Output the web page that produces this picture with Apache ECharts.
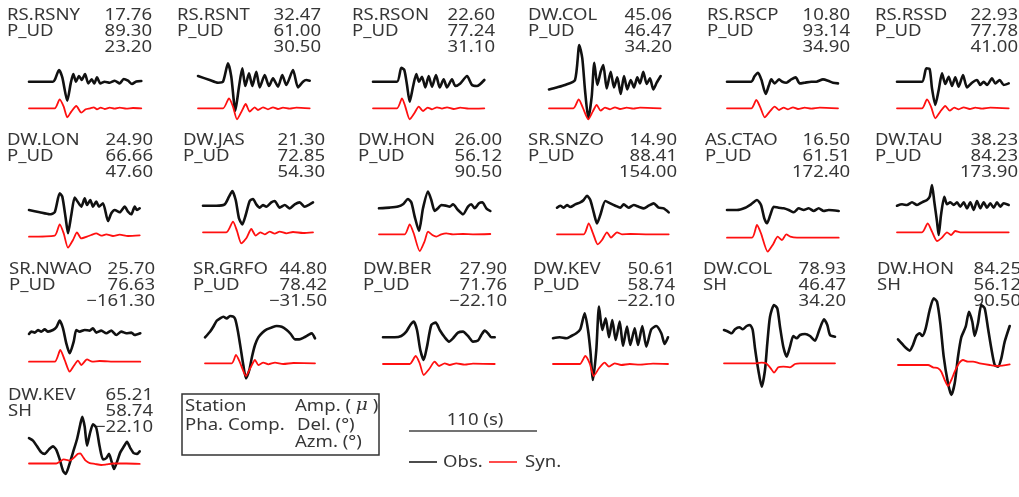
<!DOCTYPE html>
<html>
<head>
<meta charset="utf-8">
<title>Waveform fits</title>
<script src="https://cdn.jsdelivr.net/npm/echarts@6/dist/echarts.min.js"></script>
<style>
  html, body { margin: 0; padding: 0; background: #fff; }
  #main { width: 1019px; height: 497px; }
</style>
</head>
<body>
<div id="main"></div>
<script>
// Station records: name, phase/component, amplitude (micron), distance (deg), azimuth (deg)
const stations = ['RS.RSNY', 'RS.RSNT', 'RS.RSON', 'DW.COL', 'RS.RSCP', 'RS.RSSD',
  'DW.LON', 'DW.JAS', 'DW.HON', 'SR.SNZO', 'AS.CTAO', 'DW.TAU',
  'SR.NWAO', 'SR.GRFO', 'DW.BER', 'DW.KEV', 'DW.COL', 'DW.HON', 'DW.KEV'];
const phases = ['P_UD', 'P_UD', 'P_UD', 'P_UD', 'P_UD', 'P_UD',
  'P_UD', 'P_UD', 'P_UD', 'P_UD', 'P_UD', 'P_UD',
  'P_UD', 'P_UD', 'P_UD', 'P_UD', 'SH', 'SH', 'SH'];
const amplitudes = [17.76, 32.47, 22.60, 45.06, 10.80, 22.93,
  24.90, 21.30, 26.00, 14.90, 16.50, 38.23,
  25.70, 44.80, 27.90, 50.61, 78.93, 84.25, 65.21];
const distances = [89.30, 61.00, 77.24, 46.47, 93.14, 77.78,
  66.66, 72.85, 56.12, 88.41, 61.51, 84.23,
  76.63, 78.42, 71.76, 58.74, 46.47, 56.12, 58.74];
const azimuths = [23.20, 30.50, 31.10, 34.20, 34.90, 41.00,
  47.60, 54.30, 90.50, 154.00, 172.40, 173.90,
  -161.30, -31.50, -22.10, -22.10, 34.20, 90.50, -22.10];

// Observed traces: [time, amplitude] pairs, time measured from the window start
const obsTraces = [
  [[0,0],[24,0],[26,2.3],[30,11.7],[33.3,4.3],[38.3,-19],[41.7,-1.7],[44.3,7.7],[47,0],[50,5.7],[52.7,1.7],[56,7.7],[59.3,-1.7],[62.7,2.3],[65.3,-1.7],[68,4.3],[71.3,-1.7],[75.7,0],[80.7,-1],[85.7,1],[90.7,-1.7],[94.7,2.7],[99,1],[103,-2.3],[107.3,0.3],[112.3,0.7]],
  [[0,5.7],[11.7,1.7],[20,-1],[25,0],[30,18.3],[33.3,5],[37.3,-29],[41,-5],[44.3,13.3],[47.3,-4.3],[51,8.3],[54.3,-4.3],[58.3,10],[61.7,-5.7],[66.7,6.7],[71,-4.3],[75,3.3],[80,-5],[84.3,6.7],[88.3,-3.3],[95,11.7],[100,-5.7],[105,0],[108.3,1.7],[111.7,1]],
  [[0,0],[24,0],[28.3,14],[31.3,11.7],[34,-3.3],[36.7,-20],[40,-5],[43.3,7.7],[46,0],[49,5],[52.3,-5.7],[55.7,5.7],[59,-5],[63,6.7],[66.7,-5.7],[70.7,2.3],[74,-5.7],[79,2.3],[82.3,-4.3],[87.3,-1.7],[94,5.7],[99,-3.3],[104,-4.3],[111.3,1.7]],
  [[0,-7.7],[7.7,-5.7],[16,-3.3],[26,1.7],[30.3,36.7],[33.3,23.3],[36,-8.3],[39.3,-36.7],[42.7,-15],[45.3,19],[48.3,-3.3],[51.7,10],[54.3,16.7],[57.7,-6.7],[61.7,10],[65,-5.7],[68.3,4.3],[71.7,-12.3],[75,5.7],[78.3,-7.7],[81.7,1.7],[85,-5.7],[88.3,4.3],[91,-1.7],[94.3,10],[97.7,-2.3],[101,3.3],[104.3,-7.7],[107.7,-1],[111.7,5.7]],
  [[0,0],[24.3,0],[27.7,5.7],[31,9],[34.3,2.3],[38.7,-12.3],[42,-3.3],[44.3,2.3],[47.7,-1.7],[52,2.3],[55.3,0],[59.3,-1],[64.3,2.3],[68.7,4.3],[72.7,-1.7],[77.7,-1],[84.3,0],[89.3,0],[96,2.3],[101,1],[106,-1],[111,-1.7]],
  [[0,0],[25,0],[29.3,13.3],[32.7,12.3],[35,-6.7],[38.3,-23.3],[41.7,-8.3],[45,8.3],[48.3,-2.3],[51.7,5],[55,-4.3],[58.3,4.3],[61.7,-5],[66,6.7],[70,-5.7],[75,-1],[80,1.7],[83.3,-3.3],[86.7,0],[90,-3.3],[95,3.3],[98.3,-1.7],[102.7,1.7],[106.7,-3.3],[111.7,-1.7]],
  [[0,-1.7],[10.7,-4],[20.7,-6],[25.7,-4],[30.7,15],[33.3,11.7],[36.7,-10],[39,-25],[42.3,-6.7],[45.7,10.7],[49,6],[52.3,1.7],[55.7,10],[58,3.3],[61.3,8.3],[64,1.7],[67.3,6.7],[70,1.7],[74,5],[79,-12.7],[82.3,-5],[85.7,-1.7],[90.7,-4],[95.7,1.7],[99,-3.3],[102.3,-6],[105.7,1.7],[108,-1.7],[110.7,0]],
  [[0,0],[13.3,0],[21.7,1.3],[26,9],[29.3,14.7],[32.7,5.7],[36,-12.7],[39.3,-18.7],[42.7,-9.3],[46.7,4.7],[50,6.7],[53.3,1.3],[56.7,-2],[60,0.7],[63.3,-1],[68.3,3.3],[71.7,4.7],[76.7,-2],[81.7,0.7],[86.7,-2.7],[91.7,1.3],[96.7,3.3],[101.7,-1],[106.7,1.3],[110,3.3]],
  [[0,0],[10.7,0.7],[19,1.7],[24,4],[29,9.3],[32.3,6],[35.7,-8.3],[40,-22.7],[44,0],[49,16.7],[52.3,8.3],[55.7,-2.7],[59,0],[62.3,3.3],[66.7,2.7],[70.7,1.7],[74,4],[79,-1.7],[84,-6],[89,1.7],[92.3,4],[95.7,0],[100,5],[103.3,6],[107.3,0],[111.3,-2.7]],
  [[0,0],[3.3,2],[6.7,0],[10,2.7],[13.3,0.7],[18.3,3.3],[23.3,5.3],[26.7,7.7],[30,12],[33.3,7.7],[36.7,-4.7],[40,-15.7],[43.3,-7.3],[48.3,6.7],[53.3,4.3],[58.3,2],[63.3,0],[66.7,3.3],[71.7,0],[76.7,2.7],[81.7,1],[86.7,-0.7],[91.7,2],[96.7,4.3],[101.7,0],[106.7,-0.7],[111.7,-4.7]],
  [[0,0],[10,0],[18.3,2.3],[24,5.7],[30,10],[34,5],[37.3,-8.3],[40,-13.3],[43.3,-5],[46.7,3.3],[51.7,2.3],[56.7,1.7],[61.7,0],[66.7,-2.3],[71.7,1.7],[76.7,0],[81.7,1.7],[86.7,-1],[91.7,1.7],[96.7,-1],[101.7,0],[111.7,-1]],
  [[0,-0.7],[5,0.7],[10,0],[15,2.7],[20,0],[25,2.7],[30,5],[32.7,8.3],[35,20],[37.3,3.3],[40,-16.7],[41.7,-30],[44,-10],[47.3,8.3],[50,0.7],[53.3,2.7],[56.7,0],[60,2.7],[63.3,-1.7],[66.7,2.7],[70,-3.3],[73.3,2.7],[76.7,-5],[80,4],[83.3,-3.3],[86.7,2.7],[90,-2.7],[93.3,1.7],[96.7,-2.7],[100,2.7],[103.3,-1.7],[106.7,1.7],[111.7,0]],
  [[0,-0.7],[2.3,1.7],[5.7,0.7],[9,3.3],[12.3,1.7],[15.7,4],[19,1.7],[24,3.3],[27.3,6],[30.7,12.7],[34,5],[37.3,-10],[40.7,-20],[44.7,-8.3],[47.3,3.3],[50.7,1.7],[55.7,3.3],[60.7,2.7],[64,5],[67.3,0.7],[72.3,2.7],[77.3,0],[82.3,2.7],[87.3,-1.7],[92.3,1.7],[97.3,0],[102.3,0.7],[105.7,-1.7],[111.3,0]],
  [[0,-0.7],[5,5],[8.3,10],[11.7,16],[15,18.3],[18.3,20],[21.7,18.3],[25,20.7],[28.3,20],[30.3,17.3],[33,5],[35.7,-11.7],[38.3,-28.3],[41,-41.7],[44.3,-33.3],[47,-20],[50,-8.3],[53.3,-0.7],[57.3,4],[61.7,7.3],[66.7,9.3],[71.7,10.7],[76.7,10],[81.7,6.7],[85.7,2.7],[90,-2.7],[94.3,-2.7],[99,-0.7],[103.3,1.7],[106.7,3.3],[110,-1.7]],
  [[0,0],[11.7,0],[18.3,1.3],[23.3,5.7],[27.3,12.3],[30.7,15.7],[34,7.3],[37.3,-12.7],[40.7,-22.7],[44,-9.3],[48.3,12.3],[52.7,14.7],[56.7,7.3],[61.7,0],[66,-4.3],[70,-1],[75,4.7],[80,5.7],[85,1.3],[90,-4.3],[95,-3.3],[98.3,2.3],[101.7,6.7],[105,4],[108.3,0],[111.7,0]],
  [[0,-1],[6.7,0],[13.3,-1],[18.3,1.3],[23.3,4],[27.3,8],[31.7,24],[35,7.3],[37.3,-12.7],[40,-42.7],[43.3,-12.7],[46,30.7],[49.3,7.3],[52.7,19],[56,0],[59.3,17.3],[62.7,-2.7],[66.7,15.7],[70,-8.7],[74,10.7],[77.3,-7.7],[81.7,9],[85,-7.7],[89.3,11.3],[93.3,-9.3],[98.3,8],[103.3,11.3],[108.3,4],[111.7,-6.7],[115,0]],
  [[0,0],[4.3,-1.7],[7.7,-3.3],[11,0.7],[15.3,2.7],[18.7,0.7],[22.7,4],[26,5],[28.7,0],[31,-18.3],[34.3,-40],[37.7,-56.7],[41,-40],[43.3,-13.3],[46,13.3],[50,25],[53.3,21.7],[56,3.3],[59.3,-16.7],[62.7,-26.7],[66,-16.7],[69.3,-6],[72.7,-8.3],[76,-5],[81,-4],[86,-6],[91,-10.7],[95.3,0],[100,10.7],[103.3,5],[106,-5],[111,-6.7]],
  [[0,0.7],[4.3,-4],[8.3,-8.3],[11.7,-10.7],[15,-5],[18.3,4],[21.7,6.7],[24.3,4],[27.7,11.7],[31.7,30],[35.7,41.7],[39,38.3],[42.3,16.7],[45.7,-16.7],[50,-43.3],[53.3,-55],[56.7,-43.3],[60,-16.7],[63.3,2.7],[67.7,13.3],[71,28.3],[74.3,18.3],[76.7,4],[80,16.7],[83.3,35],[86.7,31.7],[90,11.7],[93.3,-8.3],[96.7,-25],[100,-26.7],[103.3,-18.3],[106.7,-1.7],[111.7,14]],
  [[0,18.3],[4,15],[8,7.3],[12.3,-0.7],[15.7,-2.7],[20,3.3],[24,7.3],[27.3,2.7],[30.7,-10],[34,-25],[36.7,-29.3],[40,-18.3],[44,-0.7],[48,16.7],[51.3,36.7],[53.3,46.7],[55.7,33.3],[58,8.3],[60.7,23.3],[64,36.7],[67.3,31.7],[70.7,6.7],[74,-10],[77.3,-8.3],[80,-2.7],[82.7,-13.3],[85,-22.7],[88,-13.3],[91.3,-0.7],[94.7,6.7],[98,13.3],[101.3,5],[104.7,-1.7],[108,-2.7],[110.7,0.7]]
];

// Synthetic traces on the same time windows
const synTraces = [
  [[0,0],[25.7,0],[30.7,9],[34.7,1.7],[38.3,-9],[42.3,-3.3],[47.3,2.3],[52.3,-4.3],[56.7,-1],[61.3,0],[64.7,1],[68,-1],[71.7,0.7],[75.7,-0.7],[80.7,0.7],[85.7,-0.3],[90.7,0.7],[97.3,-0.3],[104,0.3],[112.3,0]],
  [[0,0],[25,0],[31,10],[35,1.7],[39,-11],[44,-2.3],[47.7,4.3],[51.7,-3.3],[56.7,1],[60,-1.7],[65,1],[70,-1],[75,1],[80,-0.7],[85,0.7],[91.7,-0.3],[98.3,0.7],[111.7,0]],
  [[0,0],[24,0],[29,10],[32.3,1.7],[36.7,-11],[41.3,-5],[45.7,1.7],[50,-2.7],[54.7,0.7],[59,-1],[64,1],[69,-0.3],[74,1],[80.7,-0.7],[87.3,0.7],[95.7,-0.3],[111.3,0]],
  [[0,0],[24.3,0],[29.7,9],[33.7,1],[39.3,-11],[43.7,-3.3],[47.7,3.3],[51.7,-2.3],[56,0.7],[61,-1],[66,1],[71,-0.7],[77.7,0.7],[84.3,-0.3],[91,0.7],[111.7,0]],
  [[0,0],[24.3,0],[29.3,8.3],[33.3,1],[37.7,-9],[42.7,-3.3],[47.7,1.7],[52,-1.7],[56.7,0.7],[61,-1],[66,1],[71,-0.7],[77.7,0.7],[84.3,-0.3],[92.7,0.7],[111,0]],
  [[0,0],[25,0],[30,9],[34,1.7],[38.3,-10],[43.3,-3.3],[48.3,2.3],[52.7,-2.3],[57.3,0.7],[61.7,-1],[66.7,1],[72.7,-0.7],[78.3,0.7],[85,-0.3],[93.3,0.7],[111.7,0]],
  [[0,-1],[25.7,0],[30.7,11.3],[34.7,2.3],[39,-12],[44,-4.3],[48,3.3],[52.3,-2.7],[58,-1],[62.3,0.7],[67.3,2.3],[72.3,0],[77.3,1.3],[84,-0.3],[90.7,1],[99,-0.3],[110.7,0.3]],
  [[0,0],[23.3,0],[30,10.7],[34,1.3],[38.3,-11],[43.3,-6],[48.3,3.3],[52.7,-3.3],[57.3,0],[61.7,-2],[66.7,0.7],[71.7,-1.3],[76.7,0.7],[83.3,-1],[90,0.3],[100,-0.7],[110,0]],
  [[0,0],[25.7,0],[30.7,10],[34.7,1],[40.7,-16.7],[45.7,-6.7],[49,2.7],[53.3,-0.7],[57.3,-2.3],[62.3,0],[67.3,1],[74,0],[84,0.3],[94,0],[111.3,0.3]],
  [[0,0],[26.7,0],[31.7,11],[36,1],[40.7,-10],[45,-5.7],[50,2],[54,-3.3],[60,2],[65,0],[73.3,0.3],[90,0],[111.7,0]],
  [[0,0],[25,0],[30,12.7],[34,4.3],[40.7,-14],[46,-6.7],[50.7,1],[55,-2.3],[59.3,3.3],[63.3,1],[70,0],[86.7,0],[111.7,0]],
  [[0,0],[25,0],[30.7,9],[35,0.7],[40,-8.7],[45,-5.3],[50,0],[54,-2.7],[58.3,1.3],[63.3,0],[73.3,0],[111.7,0]],
  [[0,0],[25.7,0],[31.3,11.7],[35.7,1.7],[40.7,-10],[44.7,-4.3],[49,1],[52.3,-3.3],[58,2.3],[63.3,0],[70.7,0.7],[87.3,0],[111.3,0]],
  [[0,0],[26.7,0],[31,8.3],[35,0.7],[41,-12.7],[45.7,-4],[50,3.3],[53.3,-1.7],[58.3,0.7],[63.3,-1],[70,0.7],[78.3,-0.7],[88.3,0.3],[110,0]],
  [[0,0],[26.7,0],[32.7,8],[36.7,0.7],[40.7,-11],[46,-5.3],[51.7,2.3],[56,-2],[61.7,0.7],[66.7,-1],[73.3,0.7],[81.7,-0.7],[90,0.3],[111.7,0]],
  [[0,0],[26.7,0],[32.3,8],[36.7,0.7],[40.7,-12],[46,-4.3],[51.7,1.3],[56,-2.7],[61.7,0.7],[68.3,-1],[76.7,0],[86.7,-0.7],[100,0.3],[115,0]],
  [[0,0],[32.7,0],[37.7,0.7],[42,0],[46.7,-5],[50,-9.3],[54.3,-4],[59.3,-3.3],[66,-4],[71,-0.7],[76,0],[111,0]],
  [[0,0],[30,0],[35,-2.3],[40,-3.3],[43.3,-6.7],[46.7,-15],[50,-21],[53.3,-15],[56.7,-6.7],[61,1.7],[65,5],[70,3.3],[75,3.3],[81.7,1.7],[91.7,0],[100,-1],[111.7,0.7]],
  [[0,0],[27.3,0],[31.3,4],[34.7,7.3],[37.3,6.7],[40.7,5],[44.7,10],[49,17.3],[51.3,18.3],[54,11.7],[56.7,5],[60.7,0.7],[65.7,-0.7],[72.3,-2.7],[77.3,-1.7],[84,0],[97.3,0],[110.7,-0.7]]
];

// Panel placement: station text left edge, value column right edge, first text line centre,
// trace window left edge, observed and synthetic baselines
const panelLayout = [
  {sx: 7, rx: 152, ty: 15.5, tx: 29, oy: 81.7, sy: 108.3},
  {sx: 177, rx: 321, ty: 15.5, tx: 198, oy: 81.7, sy: 108.3},
  {sx: 352, rx: 495, ty: 15.5, tx: 373, oy: 81.7, sy: 108.3},
  {sx: 528, rx: 672, ty: 15.5, tx: 549, oy: 81.7, sy: 108.3},
  {sx: 707, rx: 850, ty: 15.5, tx: 727, oy: 81.7, sy: 108.3},
  {sx: 875, rx: 1018, ty: 15.5, tx: 897, oy: 81.7, sy: 108.3},
  {sx: 7, rx: 153, ty: 140.5, tx: 29, oy: 208.3, sy: 235.7},
  {sx: 183, rx: 325, ty: 140.5, tx: 203, oy: 205.7, sy: 232.3},
  {sx: 358, rx: 502, ty: 140.5, tx: 379, oy: 208.3, sy: 234.3},
  {sx: 528, rx: 677, ty: 140.5, tx: 557, oy: 207.7, sy: 234.3},
  {sx: 705, rx: 850, ty: 140.5, tx: 727, oy: 210, sy: 237.7},
  {sx: 875, rx: 1018, ty: 140.5, tx: 897, oy: 205, sy: 232.3},
  {sx: 9, rx: 155, ty: 269, tx: 29, oy: 333.3, sy: 361.7},
  {sx: 193, rx: 327, ty: 269, tx: 205, oy: 336.7, sy: 363.3},
  {sx: 363, rx: 507, ty: 269, tx: 383, oy: 337.3, sy: 364},
  {sx: 533, rx: 675, ty: 269, tx: 553, oy: 337.3, sy: 364},
  {sx: 703, rx: 846, ty: 269, tx: 724, oy: 330, sy: 363.3},
  {sx: 877, rx: 1021, ty: 269, tx: 898, oy: 340, sy: 365},
  {sx: 8, rx: 153, ty: 395.5, tx: 29, oy: 466.7, sy: 490}
];

const FONT = '16px "Noto Sans", "Open Sans", sans-serif';
const TEXT_COLOR = '#363636';
const STRETCH = 1.16;
const LINE_GAP = 16;
const AMP_RANGE = 60;

const grids = [], xAxes = [], yAxes = [], series = [], graphics = [];

function fmt(v) {
  const s = Math.abs(v).toFixed(2);
  return v < 0 ? '\u2212' + s : s;
}

function addTrace(data, left, baseY, color, width, name) {
  const k = grids.length;
  const tMax = data[data.length - 1][0];
  grids.push({left: left, top: baseY - AMP_RANGE, width: tMax, height: AMP_RANGE * 2, containLabel: false});
  xAxes.push({type: 'value', gridIndex: k, min: 0, max: tMax, show: false});
  yAxes.push({type: 'value', gridIndex: k, min: -AMP_RANGE, max: AMP_RANGE, show: false});
  series.push({
    name: name, type: 'line', xAxisIndex: k, yAxisIndex: k, data: data,
    showSymbol: false, silent: true, clip: false, smooth: 0.22,
    lineStyle: {color: color, width: width, cap: 'round', join: 'round'}
  });
}

function label(text, x, y, align) {
  graphics.push({
    type: 'text', x: x, y: y, scaleX: STRETCH, silent: true,
    style: {text: text, font: FONT, fill: TEXT_COLOR, align: align, textAlign: align,
      verticalAlign: 'middle', textVerticalAlign: 'middle'}
  });
}

panelLayout.forEach(function (p, i) {
  addTrace(obsTraces[i], p.tx, p.oy, '#111111', 2.6, 'Obs.');
  addTrace(synTraces[i], p.tx, p.sy, '#ff1010', 1.8, 'Syn.');
  label(stations[i], p.sx, p.ty, 'left');
  label(fmt(amplitudes[i]), p.rx, p.ty, 'right');
  label(phases[i], p.sx, p.ty + LINE_GAP, 'left');
  label(fmt(distances[i]), p.rx, p.ty + LINE_GAP, 'right');
  label(fmt(azimuths[i]), p.rx, p.ty + LINE_GAP * 2, 'right');
});

// Key box explaining the text block of each panel
graphics.push({
  type: 'rect', silent: true,
  shape: {x: 182, y: 394, width: 197, height: 61},
  style: {fill: 'none', stroke: '#333', lineWidth: 1.5}
});
label('Station', 185, 406, 'left');
label('Pha. Comp.', 185, 425, 'left');
graphics.push({
  type: 'text', x: 295, y: 406, scaleX: STRETCH, silent: true,
  style: {
    text: 'Amp. ( {mu|\u03bc} )', font: FONT, fill: TEXT_COLOR,
    align: 'left', verticalAlign: 'middle',
    rich: {mu: {font: 'italic 16px "DejaVu Serif", serif', fill: TEXT_COLOR}}
  }
});
label('Del. (\u00b0)', 297, 425, 'left');
label('Azm. (\u00b0)', 295, 442, 'left');

// Time scale bar and trace key
graphics.push({
  type: 'line', silent: true,
  shape: {x1: 409, y1: 431, x2: 537, y2: 431},
  style: {stroke: '#444', lineWidth: 1.5}
});
label('110 (s)', 475, 420, 'center');
graphics.push({
  type: 'line', silent: true,
  shape: {x1: 409, y1: 462, x2: 437, y2: 462},
  style: {stroke: '#111', lineWidth: 1.5}
});
label('Obs.', 443, 462, 'left');
graphics.push({
  type: 'line', silent: true,
  shape: {x1: 489, y1: 462, x2: 517, y2: 462},
  style: {stroke: '#ff1010', lineWidth: 1.5}
});
label('Syn.', 525, 462, 'left');

const chart = echarts.init(document.getElementById('main'), null, {renderer: 'canvas'});
chart.setOption({
  animation: false,
  backgroundColor: '#ffffff',
  grid: grids,
  xAxis: xAxes,
  yAxis: yAxes,
  series: series,
  graphic: graphics
});
</script>
</body>
</html>
